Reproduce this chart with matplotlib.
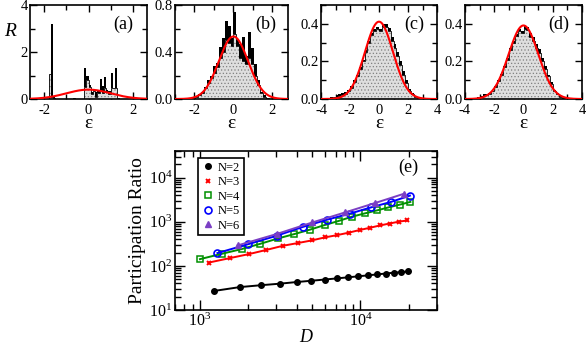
import numpy as np
import matplotlib.pyplot as plt
from matplotlib.ticker import MultipleLocator, LogLocator, NullFormatter
from matplotlib.lines import Line2D

plt.rcParams['font.family'] = ['Liberation Serif', 'DejaVu Serif']
plt.rcParams['mathtext.fontset'] = 'custom'
plt.rcParams['mathtext.rm'] = 'Liberation Serif'
plt.rcParams['mathtext.it'] = 'Liberation Serif:italic'
plt.rcParams['axes.unicode_minus'] = False
plt.rcParams['hatch.linewidth'] = 0.5

# ---- panel (a): R(eps) histogram, bins of 0.1 from -2.5 to 2.5
edges_a = np.round(np.arange(-2.5, 2.5001, 0.1), 2)
black_a = [0, 0, 0, 0, 0, 0, 0, 1.05, 3.2, 0.1,
           0, 0, 0, 0, 0, 0, 0, 0, 0.05, 0,
           0, 0, 0, 1.3, 1.0, 0.6, 0.3, 0.4, 0.3, 0.35,
           0.85, 0.55, 0.92, 0.4, 0.35, 1.12, 0.45, 1.3, 0.05, 0,
           0, 0, 0, 0, 0, 0, 0, 0, 0, 0]
gray_a = [0, 0, 0, 0, 0, 0, 0, 1.05, 0.1, 0.05,
          0, 0, 0, 0, 0, 0, 0, 0, 0.03, 0,
          0, 0, 0, 0.5, 0.8, 0.5, 0.2, 0.35, 0.1, 0.25,
          0.4, 0.25, 0.45, 0.3, 0.2, 0.45, 0.45, 0.45, 0.03, 0,
          0, 0, 0, 0, 0, 0, 0, 0, 0, 0]

# ---- panel (b): bins of 0.15 from -2.25 to 1.8
edges_b = np.round(np.arange(-2.25, 1.8001, 0.15), 2)
black_b = [0.005, 0.01, 0.02, 0.04, 0.06, 0.10, 0.16, 0.20, 0.28, 0.31,
           0.44, 0.52, 0.66, 0.62, 0.52, 0.74, 0.50, 0.47, 0.53, 0.37,
           0.57, 0.43, 0.30, 0.16, 0.06, 0.03, 0.01]
gray_b = [0.005, 0.01, 0.02, 0.035, 0.05, 0.09, 0.14, 0.18, 0.22, 0.27,
          0.35, 0.40, 0.50, 0.48, 0.45, 0.55, 0.45, 0.35, 0.32, 0.30,
          0.35, 0.30, 0.20, 0.12, 0.05, 0.02, 0.01]

# ---- panels (c), (d): bins of 0.2 from -3.4 to 3.0
edges_cd = np.round(np.arange(-3.4, 3.0001, 0.2), 2)
black_c = [0.008, 0.012, 0.02, 0.025, 0.03, 0.035, 0.05, 0.07, 0.10, 0.13,
           0.17, 0.21, 0.26, 0.31, 0.35, 0.37, 0.385, 0.37, 0.40, 0.40,
           0.38, 0.33, 0.29, 0.25, 0.20, 0.15, 0.10, 0.055, 0.03, 0.015,
           0.008, 0.004]
gray_c = [0.005, 0.008, 0.012, 0.015, 0.02, 0.025, 0.04, 0.06, 0.09, 0.12,
          0.16, 0.20, 0.25, 0.30, 0.34, 0.36, 0.37, 0.36, 0.385, 0.385,
          0.36, 0.31, 0.27, 0.23, 0.18, 0.13, 0.085, 0.045, 0.025, 0.012,
          0.006, 0.003]
black_d = [0.005, 0.01, 0.015, 0.025, 0.025, 0.03, 0.045, 0.07, 0.10, 0.135,
           0.175, 0.22, 0.27, 0.31, 0.345, 0.37, 0.36, 0.39, 0.385, 0.35,
           0.33, 0.29, 0.265, 0.22, 0.175, 0.13, 0.09, 0.05, 0.03, 0.015,
           0.006, 0.003]
gray_d = [0.003, 0.006, 0.01, 0.018, 0.02, 0.025, 0.04, 0.065, 0.095, 0.13,
          0.17, 0.21, 0.26, 0.30, 0.335, 0.36, 0.35, 0.37, 0.365, 0.33,
          0.31, 0.27, 0.245, 0.20, 0.16, 0.12, 0.08, 0.045, 0.025, 0.012,
          0.005, 0.002]

# gaussian fits (red): mean, sigma
fit_a = (0.0, 1.0)
fit_b = (0.0, 0.75)
fit_c = (0.0, 0.97)
fit_d = (0.0, 1.02)

# ---- panel (e): participation ratio vs dimension D
D2 = [1225, 1770, 2415, 3160, 4005, 4950, 5995, 7140, 8385, 9730, 11175,
      12720, 14365, 16110, 17955, 19900]
PR2 = [27, 33, 36.5, 39.5, 43, 46, 49, 52, 55, 58, 61, 64, 67, 70, 72, 75]
D3 = [1140, 1540, 2024, 2600, 3276, 4060, 4960, 5984, 7140, 8436, 9880,
      11480, 13244, 15180, 17296, 19600]
PR3 = [119, 150, 185, 230, 284, 328, 376, 440, 496, 564, 648, 730, 823,
       910, 1000, 1070]
D4 = [1001, 1365, 1820, 2380, 3060, 3876, 4845, 5985, 7315, 8855, 10626,
      12650, 14950, 17550, 20475]
PR4 = [142, 187, 240, 316, 417, 525, 660, 840, 1040, 1300, 1540, 1800,
       2110, 2430, 2810]
D5 = [1287, 2002, 3003, 4368, 6188, 8568, 11628, 15504, 20349]
PR5 = [195, 310, 480, 760, 1110, 1520, 2110, 2810, 3900]
D6 = [1716, 3003, 5005, 8008, 12376, 18564]
PR6 = [290, 525, 960, 1620, 2660, 4270]

W, H = 588, 346
fig = plt.figure(figsize=(W / 100, H / 100), dpi=100)


def px_axes(x0, y0, x1, y1):
    # pixel box (left, top, right, bottom) -> figure axes
    return fig.add_axes([x0 / W, 1 - y1 / H, (x1 - x0) / W, (y1 - y0) / H])


def hist_panel(ax, edges, black, gray, fit, xlim, ylim, xmaj, ymaj, ymin_, yfmt, tag):
    ax.stairs(black, edges, fill=True, color='black', lw=0.8, zorder=1)
    ax.stairs(gray, edges, fill=True, facecolor='#dedede', edgecolor='#808080',
              hatch='.....', lw=0, zorder=2)
    ax.stairs(gray, edges, color='black', lw=0.6, zorder=3)
    mu, sig = fit
    xs = np.linspace(xlim[0], xlim[1], 300)
    ax.plot(xs, np.exp(-(xs - mu) ** 2 / (2 * sig ** 2)) / (sig * np.sqrt(2 * np.pi)),
            color='red', lw=1.5, zorder=4)
    ax.set_xlim(*xlim)
    ax.set_ylim(*ylim)
    ax.xaxis.set_major_locator(MultipleLocator(xmaj))
    ax.xaxis.set_minor_locator(MultipleLocator(1))
    ax.yaxis.set_major_locator(MultipleLocator(ymaj))
    ax.yaxis.set_minor_locator(MultipleLocator(ymin_))
    ax.yaxis.set_major_formatter(plt.FormatStrFormatter(yfmt))
    ax.tick_params(which='both', direction='in', top=True, right=True, labelsize=10.5)
    ax.tick_params(axis='x', pad=3.5)
    ax.tick_params(axis='y', pad=1.5)
    ax.tick_params(which='major', length=5, width=1)
    ax.tick_params(which='minor', length=3.5, width=1)
    for s in ax.spines.values():
        s.set_linewidth(1.2)
    ax.set_xlabel('ε', fontsize=14, labelpad=-1)
    ax.text(0.8, 0.79, tag, transform=ax.transAxes, ha='center', va='center', fontsize=13)


ax_a = px_axes(30, 5, 147, 99)
hist_panel(ax_a, edges_a, black_a, gray_a, fit_a, (-2.65, 2.65), (0, 4), 2, 2, 1, '%g', '(a)')
ax_b = px_axes(175, 5, 288, 99)
hist_panel(ax_b, edges_b, black_b, gray_b, fit_b, (-3.0, 2.8), (0, 0.8), 2, 0.4, 0.2, '%.1f', '(b)')
ax_c = px_axes(321, 5, 437, 99)
hist_panel(ax_c, edges_cd, black_c, gray_c, fit_c, (-4, 4), (0, 0.5), 2, 0.2, 0.1, '%.1f', '(c)')
ax_d = px_axes(465, 5, 582, 99)
hist_panel(ax_d, edges_cd, black_d, gray_d, fit_d, (-4, 4), (0, 0.5), 2, 0.2, 0.1, '%.1f', '(d)')
fig.text(10 / W, 1 - 32 / H, 'R', fontsize=14, style='italic', ha='center', va='center')

# ---- panel (e)
ax = px_axes(175, 151, 437, 310)
purple = '#7b3fc4'
series = [
    (D2, PR2, 'black', dict(marker='o', ms=4, mfc='black')),
    (D3, PR3, 'red', dict(marker='x', ms=3.5, mew=1.4)),
    (D4, PR4, '#009000', dict(marker='s', ms=4.2, mfc='none', mew=1.1)),
    (D5, PR5, 'blue', dict(marker='o', ms=5, mfc='none', mew=1.2)),
    (D6, PR6, purple, dict(marker='^', ms=5, mfc=purple)),
]
labels = ['N=2', 'N=3', 'N=4', 'N=5', 'N=6']
handles = []
for (xd, yd, c, mk), lab in zip(series, labels):
    ax.plot(xd, yd, color=c, lw=1.4, mec=c, **mk)
    handles.append(Line2D([], [], ls='none', color=c, mec=c, label=lab, **mk))

ax.set_xscale('log')
ax.set_yscale('log')
ax.set_xlim(700, 3e4)
ax.set_ylim(10, 4e4)
ax.xaxis.set_major_locator(LogLocator(base=10))
ax.xaxis.set_minor_locator(LogLocator(base=10, subs=np.arange(2, 10)))
ax.xaxis.set_minor_formatter(NullFormatter())
ax.yaxis.set_major_locator(LogLocator(base=10))
ax.yaxis.set_minor_locator(LogLocator(base=10, subs=np.arange(2, 10)))
ax.yaxis.set_minor_formatter(NullFormatter())
ax.tick_params(which='both', direction='in', top=True, right=True, labelsize=11.5, pad=2)
ax.tick_params(which='major', length=7, width=1)
ax.tick_params(which='minor', length=4, width=1)
for s in ax.spines.values():
    s.set_linewidth(1.2)
ax.set_xlabel('D', fontsize=13, style='italic', labelpad=-1)
ax.set_ylabel('Participation Ratio', fontsize=14, labelpad=2)
ax.text(0.89, 0.9, '(e)', transform=ax.transAxes, ha='center', va='center', fontsize=13)

leg = ax.legend(handles=handles, loc='upper left', bbox_to_anchor=(0.088, 0.956),
                borderaxespad=0, fontsize=9, handlelength=1.0, handletextpad=0.3,
                labelspacing=0.2, borderpad=0.3, fancybox=False, framealpha=1)
leg.get_frame().set_edgecolor('black')
leg.get_frame().set_linewidth(1.2)

fig.savefig('out.png', dpi=100)
